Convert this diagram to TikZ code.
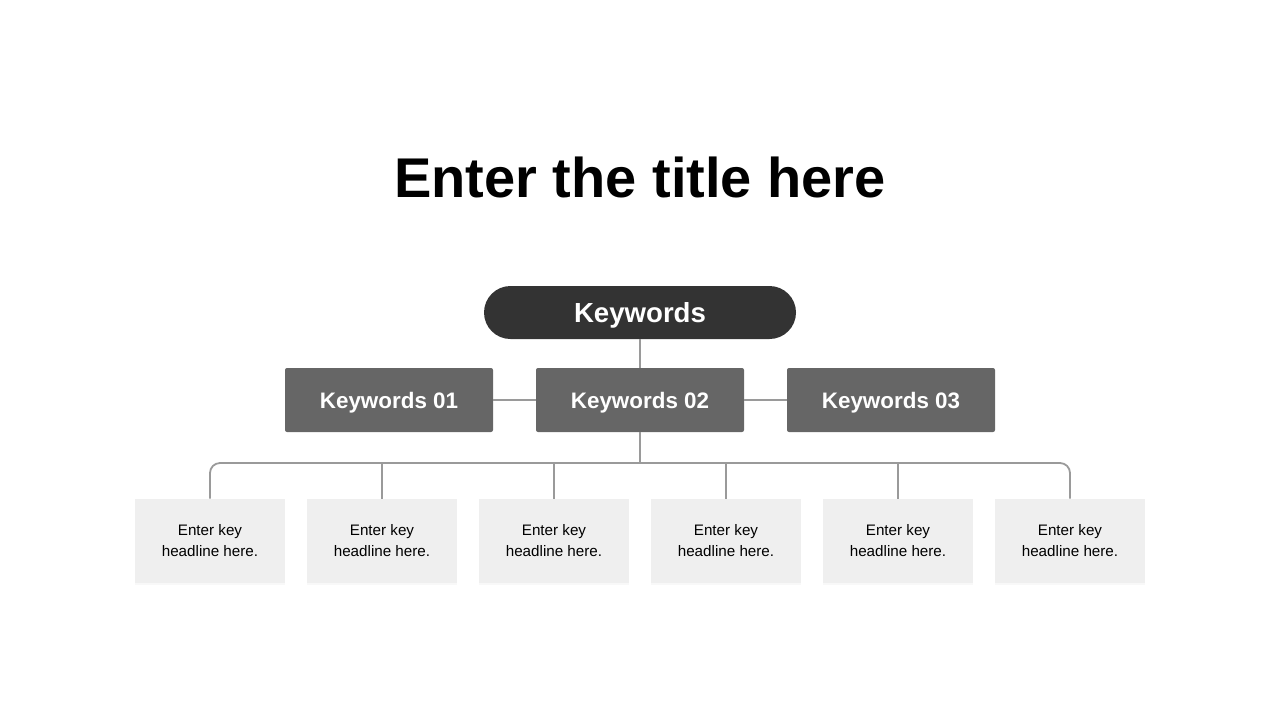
\documentclass[tikz,border=0pt]{standalone}
\usepackage{fontspec}
\setmainfont{Liberation Sans}
\usepackage{tikz}
\usetikzlibrary{calc,shadows}
\definecolor{pilldark}{HTML}{333333}
\definecolor{keygray}{HTML}{666666}
\definecolor{cardgray}{HTML}{EFEFEF}
\definecolor{linegray}{HTML}{9A9A9A}
\tikzstyle{pill} = [rectangle,rounded corners=13.25pt,fill=pilldark,text=white,minimum width=156pt,minimum height=26.5pt,text height=9.9pt,text depth=0pt,font=\fontsize{13.8}{16}\selectfont\bfseries]
\tikzstyle{keybox} = [rectangle,rounded corners=1pt,fill=keygray,text=white,minimum width=104pt,minimum height=32pt,text height=8pt,text depth=0pt,font=\fontsize{11.2}{14}\selectfont\bfseries]
\tikzstyle{card} = [rectangle,fill=cardgray,minimum width=75pt,minimum height=42pt,align=center,font=\fontsize{7.6}{10.5}\selectfont,drop shadow={opacity=0.06,shadow xshift=0pt,shadow yshift=-0.8pt}]
\tikzstyle{conn} = [draw=linegray,line width=0.9pt]

\begin{document}
\begin{tikzpicture}[x=0.5pt,y=-0.5pt]
\useasboundingbox (0,0) rectangle (1280,720);

% title
\node (title) at (640,177) {\fontsize{28}{32}\selectfont\bfseries Enter the title here};

% top and middle row
\node[pill] (top) at (640,312.5) {Keywords};
\foreach \i/\x in {1/389,2/640,3/891}{
	\node[keybox] (k\i) at (\x,400) {Keywords 0\i};
}

% bottom row
\foreach \i in {1,...,6}{
	\node[card] (b\i) at ({210+172*(\i-1)},541) {\raisebox{-1pt}{Enter key}\\\raisebox{-1pt}{headline here.}};
}

\coordinate (bus) at (640,463);
\draw[conn] (top) -- (k2);
\draw[conn] (k1) -- (k2);
\draw[conn] (k2) -- (k3);
\draw[conn] (k2) -- (bus);
\draw[conn,rounded corners=5pt] (b1.north) |- (bus) -| (b6.north);
\foreach \i in {2,...,5}{
	\draw[conn] (b\i.north) -- (b\i.north |- bus);
}
\end{tikzpicture}
\end{document}
